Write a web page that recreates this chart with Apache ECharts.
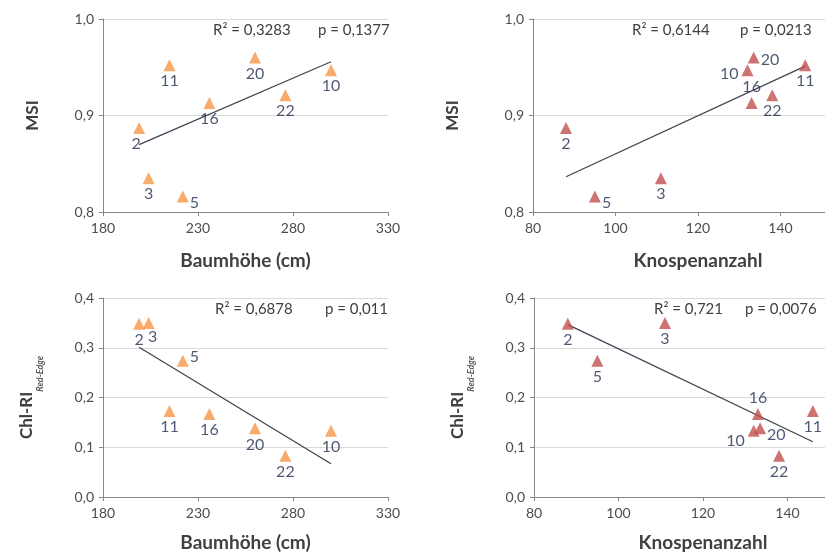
<!DOCTYPE html>
<html>
<head>
<meta charset="utf-8">
<script src="https://cdn.jsdelivr.net/npm/echarts@6/dist/echarts.min.js"></script>
<style>
html,body{margin:0;padding:0;background:#fff;}
#chart{width:825px;height:558px;}
</style>
</head>
<body>
<div id="chart"></div>
<script>
// ---- data ----
const trees   = ['2', '3', '5', '11', '16', '20', '22', '10'];
const heightCm = [199, 204, 222, 215, 236, 260, 276, 300];
const buds     = [88, 111, 95, 146, 133, 133.5, 138, 132];
const msi      = [0.887, 0.835, 0.816, 0.952, 0.913, 0.960, 0.921, 0.947];
const chl      = [0.348, 0.350, 0.274, 0.173, 0.167, 0.138, 0.083, 0.133];

const heightTicks = [180, 330, 50];   // min, max, interval
const budTicks    = [80, 160, 20];
const msiTicks    = [0.8, 1.0, 0.1];
const chlTicks    = [0.0, 0.4, 0.1];

const statsText = [
  ['R² = 0,3283', 'p = 0,1377'],
  ['R² = 0,6144', 'p = 0,0213'],
  ['R² = 0,6878', 'p = 0,011'],
  ['R² = 0,721',  'p = 0,0076']
];

// ---- label placement (style) ----
const placements = [
  {'2':'bl','5':'rb'},
  {'5':'rb','10':'l','20':'r','16':'t'},
  {'3':'br','5':'rt'},
  {'16':'t','10':'lb','20':'rb'}
];

const FONT = 'Lato, "Open Sans", sans-serif';
const orange = '#f79646', red = '#c0504d', navy = '#1f2d4d';

function labelFor(p){
  switch(p){
    case 'rb': return {position:'right', distance:1, offset:[0,6]};
    case 'rt': return {position:'right', distance:1, offset:[0,-4]};
    case 'r':  return {position:'right', distance:1, offset:[0,2]};
    case 'l':  return {position:'left', distance:3, offset:[0,4]};
    case 'lb': return {position:'left', distance:3, offset:[0,10]};
    case 't':  return {position:'top', distance:2};
    case 'bl': return {position:'bottom', distance:2, offset:[-3,0]};
    case 'br': return {position:'bottom', distance:2, offset:[4,-2]};
    default:   return {position:'bottom', distance:2};
  }
}

function regression(xs, ys){
  const n = xs.length;
  const mx = xs.reduce((a,b)=>a+b,0)/n, my = ys.reduce((a,b)=>a+b,0)/n;
  let sxy=0, sxx=0;
  for(let i=0;i<n;i++){ sxy += (xs[i]-mx)*(ys[i]-my); sxx += (xs[i]-mx)*(xs[i]-mx); }
  const b = sxy/sxx, a = my - b*mx;
  const x0 = Math.min(...xs), x1 = Math.max(...xs);
  return [[x0, a+b*x0],[x1, a+b*x1]];
}

const fmtComma = v => (Math.round(v*10)/10).toFixed(1).replace('.', ',');

const panels = [
  {xs:heightCm, ys:msi, xt:heightTicks, yt:msiTicks, color:orange, xname:'Baumhöhe (cm)', yname:'MSI', grid:{left:103, top:19, width:285, height:193}, yGap:62, xGap:39},
  {xs:buds, ys:msi, xt:budTicks, yt:msiTicks, color:red, xname:'Knospenanzahl', yname:'MSI', grid:{left:533, top:19, width:330, height:193}, yGap:72, xGap:39},
  {xs:heightCm, ys:chl, xt:heightTicks, yt:chlTicks, color:orange, xname:'Baumhöhe (cm)', yname:'{a|Chl-RI}{b|Red-Edge}', grid:{left:103, top:298, width:285, height:199}, yGap:58, xGap:36},
  {xs:buds, ys:chl, xt:budTicks, yt:chlTicks, color:red, xname:'Knospenanzahl', yname:'{a|Chl-RI}{b|Red-Edge}', grid:{left:534, top:298, width:338, height:199}, yGap:58, xGap:36}
];

const grid=[], xAxis=[], yAxis=[], series=[], graphic=[];
const statPos = [
  [[213,33],[318,33]],
  [[632,33],[740,33]],
  [[215,312],[325,312]],
  [[654,312],[745,312]]
];

panels.forEach((p, i) => {
  grid.push(Object.assign({outerBoundsMode:'none', containLabel:false}, p.grid));
  xAxis.push({
    type:'value', gridIndex:i, min:p.xt[0], max:p.xt[1], interval:p.xt[2],
    name:p.xname, nameLocation:'middle', nameGap:p.xGap,
    nameTextStyle:{fontFamily:FONT, fontSize:19, fontWeight:'bold', color:'#404040'},
    axisLine:{lineStyle:{color:'#868686', width:1}},
    axisTick:{show:true, length:4, lineStyle:{color:'#868686'}},
    axisLabel:{fontFamily:FONT, fontSize:14, color:'#4d4d4d', margin:9},
    splitLine:{show:false}
  });
  yAxis.push({
    type:'value', gridIndex:i, min:p.yt[0], max:p.yt[1], interval:p.yt[2],
    name:p.yname, nameLocation:'middle', nameGap:p.yGap, nameRotate:90,
    nameTextStyle:{fontFamily:FONT, fontSize:17, fontWeight:'bold', color:'#404040',
      rich:{
        a:{fontFamily:FONT, fontSize:17, fontWeight:'bold', color:'#404040', verticalAlign:'top', lineHeight:27},
        b:{fontFamily:FONT, fontSize:9, fontStyle:'italic', color:'#595959', verticalAlign:'bottom', lineHeight:27}
      }},
    axisLine:{show:true, lineStyle:{color:'#868686', width:1}},
    axisTick:{show:true, length:4, lineStyle:{color:'#868686'}},
    axisLabel:{fontFamily:FONT, fontSize:14, color:'#4d4d4d', margin:9, formatter:fmtComma},
    splitLine:{show:true, lineStyle:{color:'#d9d9d9', width:1}}
  });
  series.push({
    type:'line', xAxisIndex:i, yAxisIndex:i, data:regression(p.xs, p.ys),
    symbol:'none', silent:true, z:2,
    lineStyle:{color:'#3f4550', width:1.3}
  });
  const pl = placements[i];
  series.push({
    type:'scatter', xAxisIndex:i, yAxisIndex:i, symbol:'triangle', symbolSize:12, z:3,
    itemStyle:{color:p.color},
    label:{show:true, fontFamily:FONT, fontSize:16, color:navy, formatter:d=>d.name},
    data: trees.map((t,k)=>({name:t, value:[p.xs[k], p.ys[k]], label:labelFor(pl[t])}))
  });
  statsText[i].forEach((txt, j) => {
    graphic.push({type:'text', left:statPos[i][j][0], top:statPos[i][j][1]-10,
      style:{text:txt, font:'15px '+FONT, fill:'#404040'}});
  });
});

const chart = echarts.init(document.getElementById('chart'), null, {renderer:'canvas'});
chart.setOption({
  animation:false,
  backgroundColor:'#fff',
  grid, xAxis, yAxis, series, graphic
});
</script>
</body>
</html>
